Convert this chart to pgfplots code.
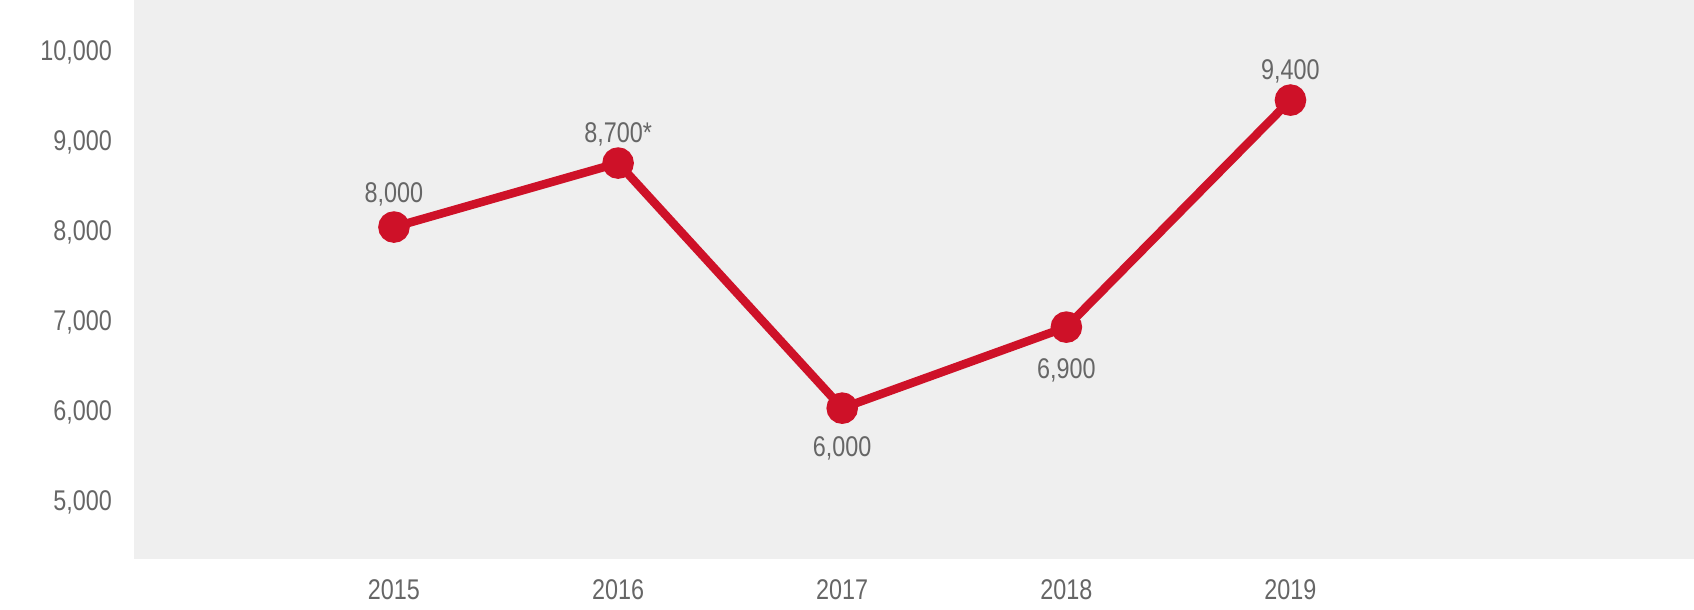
\documentclass[border=0pt]{standalone}
\usepackage{fontspec}
\setmainfont{Liberation Sans}[FakeStretch=0.82]
\usepackage{pgfplots}
\usepackage{pgfplotstable}
\pgfplotsset{compat=1.18}

\definecolor{bgGray}{RGB}{239,239,239}
\definecolor{txtGray}{RGB}{102,102,102}
\definecolor{lineRed}{RGB}{206,17,40}

% year, plotted value, label, vertical offset of label baseline (pt)
\pgfplotstableread{
year  val   lab       dy
2015  8056  {8,000}   25
2016  8767  {8,700*}  21
2017  6044  {6,000}  -48
2018  6944  {6,900}  -51
2019  9467  {9,400}   21
}\series

\begin{document}
\begin{tikzpicture}
  \begin{axis}[
    scale only axis,
    width=1560pt, height=559pt,
    xmin=2013.84, xmax=2020.80,
    ymin=4367, ymax=10578,
    axis background/.style={fill=bgGray},
    axis line style={draw=none},
    major tick length=0pt,
    scaled ticks=false,
    xtick={2015,2016,2017,2018,2019},
    xticklabels={2015,2016,2017,2018,2019},
    ytick={5000,6000,7000,8000,9000,10000},
    /pgf/number format/.cd, 1000 sep={,}, assume math mode=true,
    /pgfplots/.cd,
    every tick label/.append style={font=\fontsize{28.5}{34}\selectfont, text=txtGray, inner sep=0pt},
    yticklabel style={anchor=east, xshift=-22pt},
    xticklabel style={anchor=north, yshift=-20pt},
    clip=false,
  ]
    \addplot[
      color=lineRed, line width=8.5pt,
      mark=*, mark size=11.5pt,
      mark options={draw=none, fill=lineRed},
      point meta=explicit symbolic,
      visualization depends on={\thisrow{dy} \as \dy},
      nodes near coords={\pgfplotspointmeta},
      every node near coord/.append style={
        anchor=base, yshift=\dy pt, inner sep=0pt,
        font=\fontsize{28.5}{34}\selectfont, text=txtGray},
    ] table[x=year, y=val, meta=lab] {\series};
  \end{axis}
  \path (current axis.south west) ++(-134pt,-50pt) rectangle (current axis.north east);
\end{tikzpicture}
\end{document}
